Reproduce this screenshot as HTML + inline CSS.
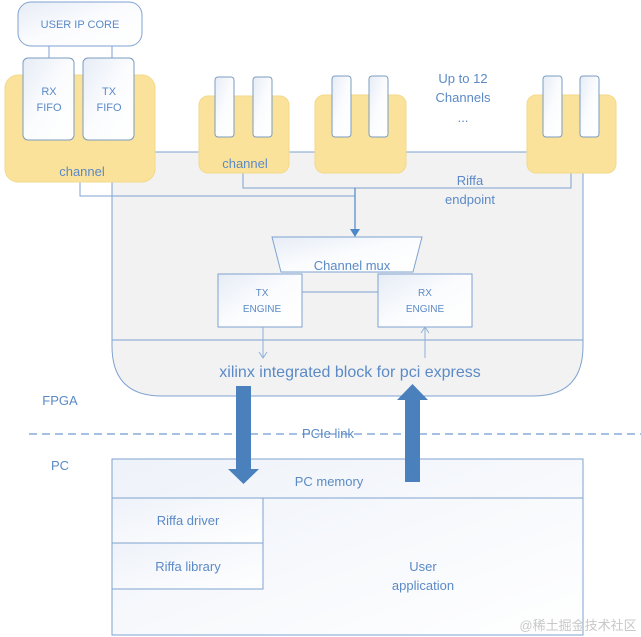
<!DOCTYPE html>
<html><head><meta charset="utf-8"><style>
html,body{margin:0;padding:0;background:#fff;}
svg{display:block;}
text{font-family:"Liberation Sans","DejaVu Sans",sans-serif;fill:#5b8ac6;}
</style></head><body>
<svg width="641" height="637" viewBox="0 0 641 637" xmlns="http://www.w3.org/2000/svg">
<defs>
<linearGradient id="wb" x1="0" y1="0" x2="1" y2="1"><stop offset="0" stop-color="#e6ecf6"/><stop offset="0.5" stop-color="#fbfcfe"/><stop offset="1" stop-color="#ffffff"/></linearGradient>
<linearGradient id="pc" x1="0" y1="0" x2="1" y2="1"><stop offset="0" stop-color="#eef2f9"/><stop offset="1" stop-color="#ffffff"/></linearGradient>
</defs>
<!-- big gray endpoint box -->
<path d="M112 152 H583 V346 Q583 396 533 396 H162 Q112 396 112 346 Z" fill="#f2f2f3" stroke="#7fa3d0" stroke-width="1"/>
<line x1="112" y1="340" x2="583" y2="340" stroke="#7fa3d0"/>
<!-- connector lines -->
<polyline points="80,180 80,196 355,196" fill="none" stroke="#7fa3d0"/>
<polyline points="243,172 243,188 571,188 571,172" fill="none" stroke="#7fa3d0"/>
<line x1="355" y1="188" x2="355" y2="230" stroke="#4f86c6" stroke-width="1.2"/>
<polygon points="350,229 360,229 355,237" fill="#4f86c6"/>
<!-- user ip core -->
<rect x="18" y="2" width="124" height="44" rx="13" fill="url(#wb)" stroke="#7fa3d0"/>
<text x="80" y="28" font-size="11" text-anchor="middle">USER IP CORE</text>
<line x1="49" y1="46" x2="49" y2="58" stroke="#7fa3d0"/>
<line x1="112" y1="46" x2="112" y2="58" stroke="#7fa3d0"/>
<!-- channel 1 -->
<rect x="5" y="75" width="150" height="107" rx="13" fill="#fbe29b" stroke="#f3d98a"/>
<rect x="23" y="58" width="51" height="82" rx="5" fill="url(#wb)" stroke="#7a9cc0"/>
<rect x="83" y="58" width="51" height="82" rx="5" fill="url(#wb)" stroke="#7a9cc0"/>
<text x="49" y="95" font-size="11" text-anchor="middle">RX</text>
<text x="49" y="111" font-size="11" text-anchor="middle">FIFO</text>
<text x="109" y="95" font-size="11" text-anchor="middle">TX</text>
<text x="109" y="111" font-size="11" text-anchor="middle">FIFO</text>
<text x="82" y="176" font-size="13" text-anchor="middle">channel</text>
<!-- channel 2 -->
<rect x="199" y="96" width="90" height="77" rx="9" fill="#fbe29b" stroke="#f3d98a"/>
<rect x="215" y="77" width="19" height="60" rx="3" fill="url(#wb)" stroke="#7a9cc0"/>
<rect x="253" y="77" width="19" height="60" rx="3" fill="url(#wb)" stroke="#7a9cc0"/>
<text x="245" y="168" font-size="13" text-anchor="middle">channel</text>
<!-- channel 3 -->
<rect x="315" y="95" width="91" height="78" rx="9" fill="#fbe29b" stroke="#f3d98a"/>
<rect x="332" y="76" width="19" height="61" rx="3" fill="url(#wb)" stroke="#7a9cc0"/>
<rect x="369" y="76" width="19" height="61" rx="3" fill="url(#wb)" stroke="#7a9cc0"/>
<!-- channel 4 -->
<rect x="527" y="95" width="89" height="78" rx="9" fill="#fbe29b" stroke="#f3d98a"/>
<rect x="543" y="76" width="19" height="61" rx="3" fill="url(#wb)" stroke="#7a9cc0"/>
<rect x="580" y="76" width="19" height="61" rx="3" fill="url(#wb)" stroke="#7a9cc0"/>
<text x="463" y="83" font-size="13" text-anchor="middle">Up to 12</text>
<text x="463" y="102" font-size="13" text-anchor="middle">Channels</text>
<text x="463" y="122" font-size="13" text-anchor="middle">...</text>
<text x="470" y="185" font-size="13" text-anchor="middle">Riffa</text>
<text x="470" y="204" font-size="13" text-anchor="middle">endpoint</text>
<!-- mux -->
<polygon points="272,237 422,237 413,272 281,272" fill="url(#wb)" stroke="#7fa3d0"/>
<text x="352" y="270" font-size="13" text-anchor="middle">Channel mux</text>
<line x1="302" y1="292" x2="378" y2="292" stroke="#7fa3d0"/>
<rect x="218" y="274" width="84" height="53" fill="url(#wb)" stroke="#7fa3d0"/>
<text x="262" y="296" font-size="10" text-anchor="middle">TX</text>
<text x="262" y="312" font-size="10" text-anchor="middle">ENGINE</text>
<rect x="378" y="274" width="94" height="53" fill="url(#wb)" stroke="#7fa3d0"/>
<text x="425" y="296" font-size="10" text-anchor="middle">RX</text>
<text x="425" y="312" font-size="10" text-anchor="middle">ENGINE</text>
<line x1="263" y1="327" x2="263" y2="357" stroke="#8fb0d8"/>
<polyline points="259,352 263,358 267,352" fill="none" stroke="#8fb0d8"/>
<line x1="425" y1="328" x2="425" y2="358" stroke="#8fb0d8"/>
<polyline points="421,333 425,327 429,333" fill="none" stroke="#8fb0d8"/>
<text x="350" y="377" font-size="16" text-anchor="middle">xilinx integrated block for pci express</text>
<!-- labels -->
<text x="60" y="405" font-size="13" text-anchor="middle">FPGA</text>
<text x="60" y="470" font-size="13" text-anchor="middle">PC</text>
<line x1="29" y1="434" x2="641" y2="434" stroke="#6f9ad0" stroke-width="1.3" stroke-dasharray="8,5"/>
<text x="328" y="438" font-size="13" text-anchor="middle">PCIe link</text>
<!-- PC box -->
<rect x="112" y="459" width="471" height="176" fill="url(#pc)" stroke="#7fa3d0"/>
<line x1="112" y1="498" x2="583" y2="498" stroke="#7fa3d0"/>
<rect x="112" y="498" width="151" height="45" fill="url(#pc)" stroke="#7fa3d0"/>
<rect x="112" y="543" width="151" height="46" fill="url(#pc)" stroke="#7fa3d0"/>
<text x="329" y="486" font-size="13" text-anchor="middle">PC memory</text>
<text x="188" y="525" font-size="13" text-anchor="middle">Riffa driver</text>
<text x="188" y="571" font-size="13" text-anchor="middle">Riffa library</text>
<text x="423" y="571" font-size="13" text-anchor="middle">User</text>
<text x="423" y="590" font-size="13" text-anchor="middle">application</text>
<text x="578" y="630" font-size="13" text-anchor="middle" style="fill:#c8c8c8">@稀土掘金技术社区</text>
<!-- big arrows -->
<polygon points="236,386 251,386 251,469 259,469 243.5,484 228,469 236,469" fill="#4a80bb"/>
<polygon points="405,482 420,482 420,400 428,400 412.5,384 397,400 405,400" fill="#4a80bb"/>
</svg>
</body></html>
